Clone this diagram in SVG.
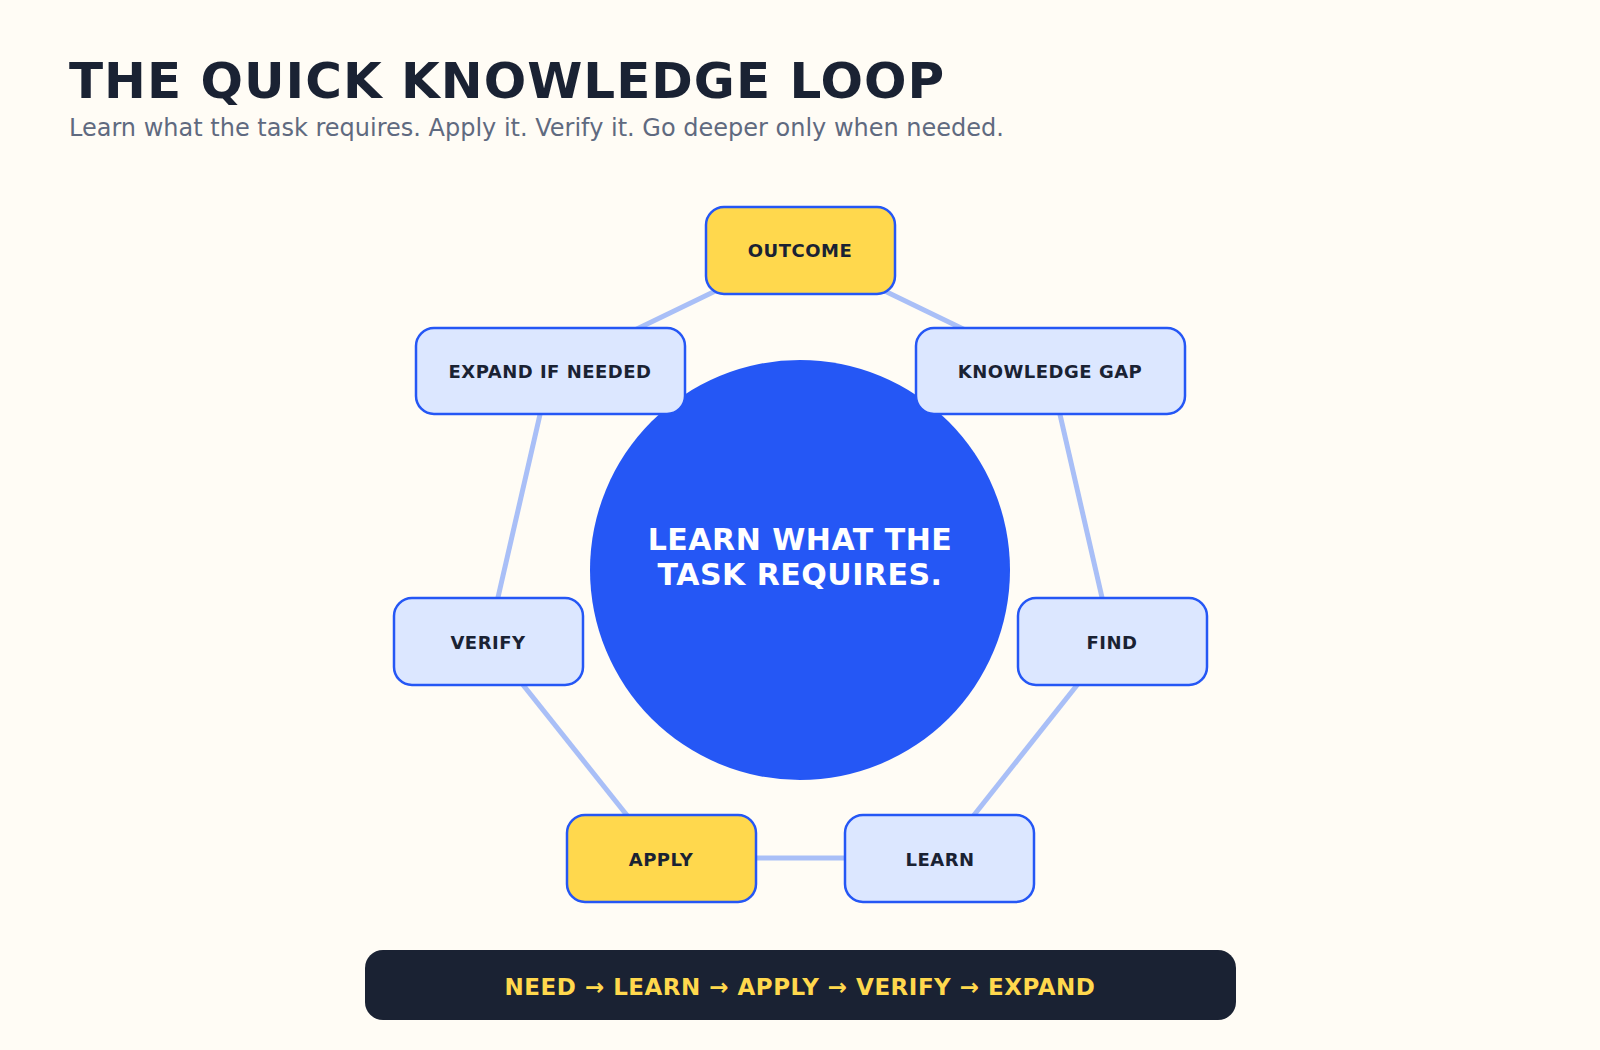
<svg xmlns="http://www.w3.org/2000/svg" width="1600" height="1050" viewBox="0 0 1600 1050">
<style>
.n rect{fill:#dce7ff;stroke:#2557f5;stroke-width:2.5}
.n.y rect{fill:#ffd84d}
.n text{font-family:"DejaVu Sans",sans-serif;font-weight:bold;font-size:18px;fill:#1a2233;text-anchor:middle;letter-spacing:0.5px}
.c line{stroke:#a9bff7;stroke-width:5}
</style>
<rect width="1600" height="1050" fill="#fffcf5"/>
<text x="69" y="98" font-family="DejaVu Sans,sans-serif" font-weight="bold" font-size="50" fill="#1a2233" letter-spacing="1">THE QUICK KNOWLEDGE LOOP</text>
<text x="69" y="136" font-family="DejaVu Sans,sans-serif" font-size="24" fill="#5f6a80">Learn what the task requires. Apply it. Verify it. Go deeper only when needed.</text>
<g class="c" id="connectors">
<line x1="800" y1="250" x2="1050" y2="371"/>
<line x1="1050" y1="371" x2="1112" y2="641"/>
<line x1="1112" y1="641" x2="940" y2="858"/>
<line x1="940" y1="858" x2="661" y2="858"/>
<line x1="661" y1="858" x2="488" y2="641"/>
<line x1="488" y1="641" x2="550" y2="371"/>
<line x1="550" y1="371" x2="800" y2="250"/>
</g>
<g id="center">
<circle cx="800" cy="570" r="210" fill="#2557f5"/>
<text x="800" y="550" font-family="DejaVu Sans,sans-serif" font-weight="bold" font-size="30" fill="#ffffff" text-anchor="middle" letter-spacing="0.5">LEARN WHAT THE</text>
<text x="800" y="585" font-family="DejaVu Sans,sans-serif" font-weight="bold" font-size="30" fill="#ffffff" text-anchor="middle" letter-spacing="0.5">TASK REQUIRES.</text>
</g>
<g class="n y" id="outcome"><rect x="706" y="207" width="189" height="87" rx="18"/><text x="800" y="257">OUTCOME</text></g>
<g class="n" id="expand"><rect x="416" y="328" width="269" height="86" rx="18"/><text x="550" y="378">EXPAND IF NEEDED</text></g>
<g class="n" id="gap"><rect x="916" y="328" width="269" height="86" rx="18"/><text x="1050" y="378">KNOWLEDGE GAP</text></g>
<g class="n" id="verify"><rect x="394" y="598" width="189" height="87" rx="18"/><text x="488" y="649">VERIFY</text></g>
<g class="n" id="find"><rect x="1018" y="598" width="189" height="87" rx="18"/><text x="1112" y="649">FIND</text></g>
<g class="n y" id="apply"><rect x="567" y="815" width="189" height="87" rx="18"/><text x="661" y="866">APPLY</text></g>
<g class="n" id="learn"><rect x="845" y="815" width="189" height="87" rx="18"/><text x="940" y="866">LEARN</text></g>
<g id="footer">
<rect x="365" y="950" width="871" height="70" rx="18" fill="#1a2233"/>
<text x="800" y="995" font-family="DejaVu Sans,sans-serif" font-weight="bold" font-size="23" fill="#ffd84d" text-anchor="middle" letter-spacing="0.5">NEED → LEARN → APPLY → VERIFY → EXPAND</text>
</g>
</svg>
